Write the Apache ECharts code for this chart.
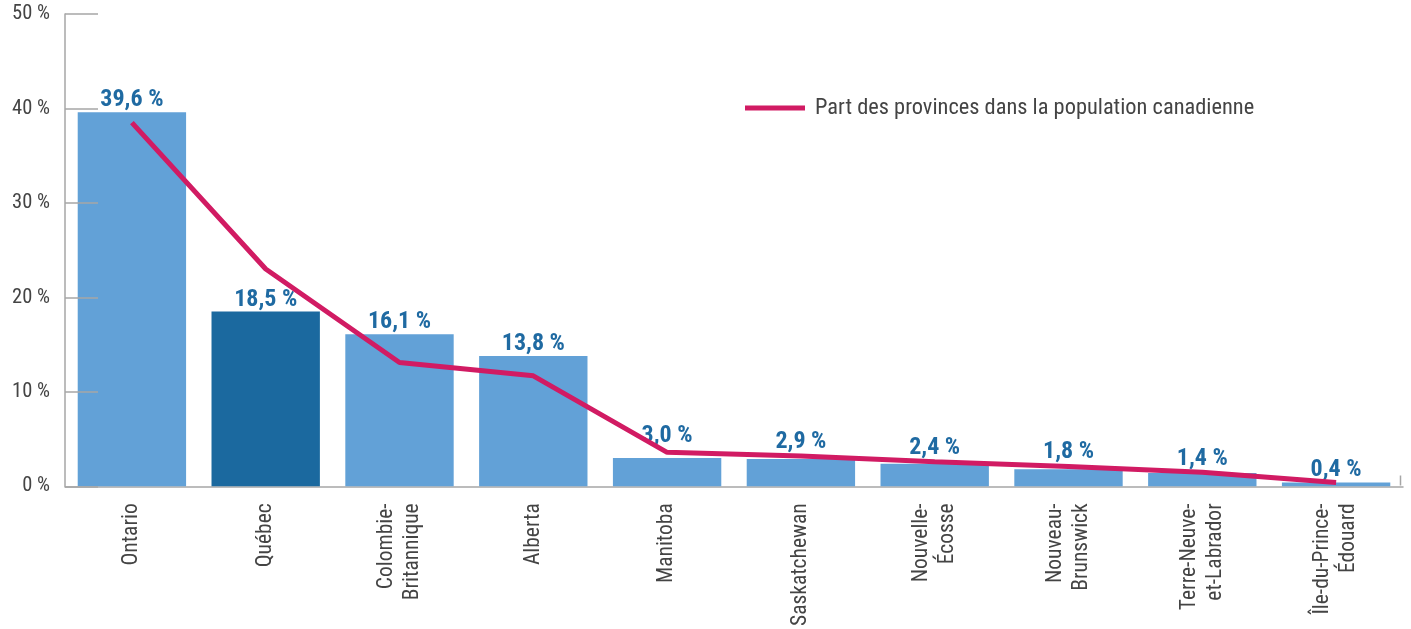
<!DOCTYPE html>
<html>
<head>
<meta charset="utf-8">
<script src="https://cdn.jsdelivr.net/npm/echarts@6/dist/echarts.min.js"></script>
<style>
  html, body { margin: 0; padding: 0; background: #fff; }
  #chart { width: 1411px; height: 629px; }
</style>
</head>
<body>
<div id="chart"></div>
<script>
// Provinces: provincial share (bars) against share of the Canadian population (line)
const provinces = [
  'Ontario', 'Québec', 'Colombie-\nBritannique', 'Alberta', 'Manitoba',
  'Saskatchewan', 'Nouvelle-\nÉcosse', 'Nouveau-\nBrunswick',
  'Terre-Neuve-\net-Labrador', 'Île-du-Prince-\nÉdouard'
];
const barValues = [39.6, 18.5, 16.1, 13.8, 3.0, 2.9, 2.4, 1.8, 1.4, 0.4];
const populationShare = [38.5, 23.0, 13.1, 11.7, 3.6, 3.2, 2.6, 2.1, 1.5, 0.4];
const lineName = 'Part des provinces dans la population canadienne';
const highlighted = 'Québec';

const FONT = "'Roboto Condensed', 'Liberation Sans Narrow', 'Arial Narrow', 'DejaVu Sans Condensed', 'Roboto', sans-serif";
const BAR = '#62a1d7';
const BAR_DARK = '#1b699f';
const LABEL_BLUE = '#1f6aa2';
const LINE = '#d11b63';
const TEXT = '#444444';
const AXIS = '#a6a6a6';

const GRID = { left: 65, right: 8, top: 14, bottom: 141 };
const Y_MAX = 50;
const CHART_H = 629;
const pxPerUnit = (CHART_H - GRID.top - GRID.bottom) / Y_MAX;

const fmt = v => v.toFixed(1).replace('.', ',') + ' %';

// Lift a value label above the population line when the line would run through it
const LABEL_GAP = 0, LABEL_H = 24;
function labelDistance(i) {
  const bar = barValues[i], line = populationShare[i];
  const diffPx = (line - bar) * pxPerUnit;   // how far the line sits above the bar top
  if (diffPx > -8 && diffPx < LABEL_H) {
    return LABEL_GAP + 1 + Math.max(0, diffPx * 1.5);
  }
  return LABEL_GAP;
}

const chart = echarts.init(document.getElementById('chart'), null, { renderer: 'canvas' });
chart.setOption({
  animation: false,
  textStyle: { fontFamily: FONT },
  grid: Object.assign({ containLabel: false }, GRID),
  legend: {
    show: true,
    data: [lineName],
    icon: 'rect',
    left: 745, top: 97,
    padding: 0,
    itemWidth: 60, itemHeight: 5, itemGap: 10,
    itemStyle: { color: LINE },
    lineStyle: { width: 0 },
    textStyle: { fontFamily: FONT, fontSize: 22.4, color: TEXT, padding: [0, 0, 0, 5] }
  },
  // closing tick at the right end of the category axis
  graphic: [{
    type: 'line', right: GRID.right, bottom: GRID.bottom,
    shape: { x1: 0, y1: 0, x2: 0, y2: 10 },
    style: { stroke: AXIS, lineWidth: 1.5 }
  }],
  xAxis: {
    type: 'category',
    data: provinces,
    boundaryGap: true,
    axisLine: { show: true, lineStyle: { color: AXIS, width: 1.5 } },
    axisTick: { show: false },
    axisLabel: {
      rotate: 90, margin: 17, interval: 0,
      fontFamily: FONT, fontSize: 21.5, color: TEXT, lineHeight: 26,
      align: 'right'
    }
  },
  yAxis: {
    type: 'value',
    min: 0, max: Y_MAX, interval: 10,
    z: 5,
    axisLine: { show: true, lineStyle: { color: AXIS, width: 1.5 } },
    axisTick: { show: true, inside: true, length: 33, lineStyle: { color: AXIS, width: 1.5 } },
    splitLine: { show: false },
    axisLabel: {
      margin: 15, fontFamily: FONT, fontSize: 20.5, color: TEXT,
      padding: [5, 0, 0, 0],
      formatter: v => v + ' %'
    }
  },
  series: [
    {
      type: 'bar',
      name: 'Part',
      barCategoryGap: '19%',
      data: barValues.map((v, i) => ({
        value: v,
        itemStyle: { color: provinces[i] === highlighted ? BAR_DARK : BAR },
        label: { distance: labelDistance(i) }
      })),
      label: {
        show: true, position: 'top',
        fontFamily: FONT, fontSize: 24, fontWeight: 'bold', color: LABEL_BLUE,
        formatter: p => fmt(p.value)
      },
      z: 2
    },
    {
      type: 'line',
      name: lineName,
      data: populationShare,
      symbol: 'none',
      lineStyle: { color: LINE, width: 5 },
      itemStyle: { color: LINE },
      z: 3
    }
  ]
});
</script>
</body>
</html>
